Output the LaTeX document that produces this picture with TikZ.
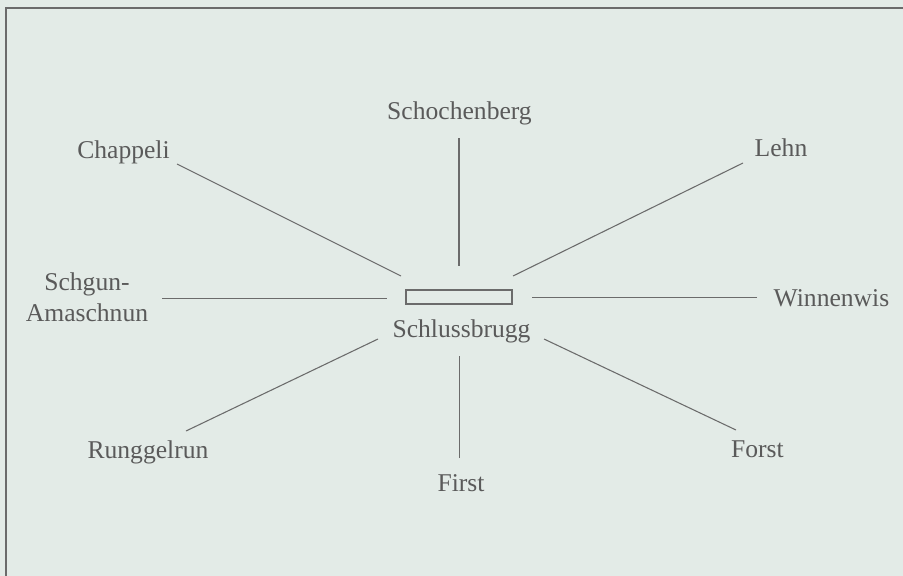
\documentclass[tikz,border=0pt]{standalone}
\usepackage{fontspec}
\setmainfont{Liberation Serif}
\definecolor{paper}{HTML}{E3EBE7}
\definecolor{ink}{HTML}{5A5A5A}
\definecolor{rule}{HTML}{6B6B6B}
\tikzset{
    place/.style = {text=ink, font=\fontsize{19.2}{23.2}\selectfont, anchor=base, inner sep=0pt},
    spoke/.style = {draw=rule, line width=0.8pt},
}
\begin{document}
\begin{tikzpicture}[x=0.75pt, y=-0.75pt]
    \useasboundingbox (0,0) rectangle (903,575);
    \fill[paper] (-2,-2) rectangle (906,578);
    \draw[rule, line width=1pt] (6,578) -- (6,8) -- (906,8);
    % bridge
    \node[draw=rule, line width=0.8pt, minimum width=79.5pt, minimum height=10.5pt, inner sep=0pt] (bridge) at (459,297) {};
    \node[place] (schlussbrugg) at (461.5,337) {Schlussbrugg};
    % places
    \node[place] (schochenberg) at (459.5,119) {Schochenberg};
    \node[place] (chappeli) at (123.5,158) {Chappeli};
    \node[place] (lehn) at (781,156) {Lehn};
    \node[place, align=center] (schgun) at (87,321) {Schgun-\\Amaschnun};
    \node[place] (winnenwis) at (831.5,306) {Winnenwis};
    \node[place] (runggelrun) at (148,458) {Runggelrun};
    \node[place] (first) at (461,491) {First};
    \node[place] (forst) at (757.5,457) {Forst};
    % spoke ends
    \coordinate (schochenberg-a) at (459,138);
    \coordinate (schochenberg-b) at (459,266);
    \coordinate (chappeli-a) at (177,164);
    \coordinate (chappeli-b) at (401,276);
    \coordinate (lehn-a) at (743,163);
    \coordinate (lehn-b) at (513,276);
    \coordinate (schgun-a) at (162,298.5);
    \coordinate (schgun-b) at (387,298.5);
    \coordinate (winnenwis-a) at (757,297.5);
    \coordinate (winnenwis-b) at (532,297.5);
    \coordinate (runggelrun-a) at (186,431);
    \coordinate (runggelrun-b) at (378,339);
    \coordinate (first-a) at (459.5,458);
    \coordinate (first-b) at (459.5,356);
    \coordinate (forst-a) at (736,430);
    \coordinate (forst-b) at (544,339);
    \foreach \p in {schochenberg, chappeli, lehn, schgun, winnenwis, runggelrun, first, forst}
        \draw[spoke] (\p-a) -- (\p-b);
\end{tikzpicture}
\end{document}
